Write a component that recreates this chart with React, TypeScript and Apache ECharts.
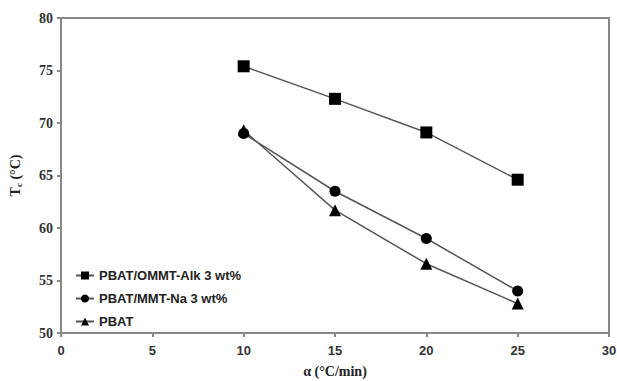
import React, { useEffect, useRef } from "react";
import * as echarts from "echarts";

const rates = [10, 15, 20, 25];
const ommtAlk = [75.4, 72.3, 69.1, 64.6];
const mmtNa = [69.0, 63.5, 59.0, 54.0];
const pbat = [69.3, 61.7, 56.6, 52.8];
const seriesNames = ["PBAT/OMMT-Alk 3 wt%", "PBAT/MMT-Na 3 wt%", "PBAT"];

const FONT = "Liberation Sans";

export default function App() {
  const ref = useRef<HTMLDivElement>(null);
  useEffect(() => {
    const chart = echarts.init(ref.current!, null, { renderer: "svg" });
    const mk = (name: string, vals: number[], symbol: string, size: number) => ({
      name,
      type: "line",
      data: rates.map((r, i) => [r, vals[i]]),
      symbol,
      symbolSize: size,
      itemStyle: { color: "#000" },
      lineStyle: { color: "#555", width: 1.5 },
    });
    chart.setOption({
      animation: false,
      backgroundColor: "#fff",
      grid: {
        left: 61,
        right: 8,
        top: 18,
        bottom: 48,
        outerBoundsMode: "none",
        containLabel: false,
        show: true,
        borderColor: "#888",
        borderWidth: 2,
      },
      legend: {
        orient: "vertical",
        left: 70,
        top: 264,
        itemWidth: 18,
        itemHeight: 10,
        itemGap: 10,
        data: seriesNames,
        textStyle: { fontFamily: FONT, fontWeight: "bold", fontSize: 13, color: "#222" },
      },
      xAxis: {
        type: "value",
        min: 0,
        max: 30,
        interval: 5,
        name: "α (°C/min)",
        nameLocation: "middle",
        nameGap: 31,
        nameTextStyle: { fontFamily: "Liberation Serif", fontWeight: "bold", fontSize: 14, color: "#222" },
        axisLine: { lineStyle: { color: "#888", width: 2 } },
        axisTick: { show: true, inside: false, length: 4, lineStyle: { color: "#888", width: 2 } },
        axisLabel: { fontFamily: FONT, fontWeight: "bold", fontSize: 13, color: "#333", margin: 11 },
        splitLine: { show: false },
      },
      yAxis: {
        type: "value",
        min: 50,
        max: 80,
        interval: 5,
        name: "{t|T}{s|c}{t| (°C)}",
        nameLocation: "middle",
        nameGap: 38,
        nameRotate: 90,
        nameTextStyle: {
          rich: {
            t: { fontFamily: "Liberation Serif", fontWeight: "bold", fontSize: 14, color: "#222" },
            s: { fontFamily: "Liberation Serif", fontWeight: "bold", fontSize: 9, color: "#222", verticalAlign: "bottom", padding: [6, 0, 0, 0] },
          },
        },
        axisLine: { show: true, lineStyle: { color: "#888", width: 2 } },
        axisTick: { show: true, inside: false, length: 4, lineStyle: { color: "#888", width: 2 } },
        axisLabel: { fontFamily: "Liberation Serif", fontWeight: "bold", fontSize: 14, color: "#333", margin: 8 },
        splitLine: { show: false },
      },
      series: [
        mk(seriesNames[0], ommtAlk, "rect", 12),
        mk(seriesNames[1], mmtNa, "circle", 11),
        mk(seriesNames[2], pbat, "triangle", 12),
      ],
    });
    return () => chart.dispose();
  }, []);
  return <div ref={ref} style={{ width: 617, height: 381, position: "absolute", left: 0, top: 0 }} />;
}
